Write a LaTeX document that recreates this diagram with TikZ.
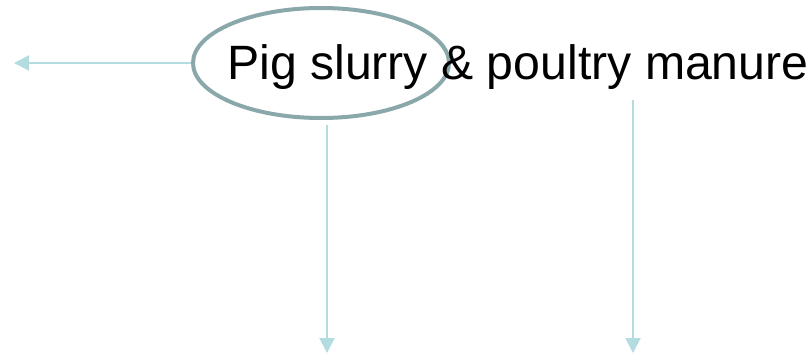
\documentclass[tikz,border=0pt]{standalone}
\usepackage{fontspec}
\setmainfont{Liberation Sans}
\usetikzlibrary{arrows.meta,shapes.geometric}
\definecolor{ringgray}{HTML}{8AA8AA}
\definecolor{flowblue}{HTML}{B2DCE0}
\tikzset{
	flow/.style={draw=flowblue,line width=2pt,-{Triangle[length=15pt,width=15pt]}},
	ring/.style={ellipse,draw=ringgray,line width=4pt,minimum width=256pt,minimum height=110pt,inner sep=0pt}
}
\begin{document}
\begin{tikzpicture}[x=1pt,y=-1pt]
	\useasboundingbox (0,0) rectangle (811,353);
	\node[ring] (pig) at (321,63) {};
	\node[anchor=base west,inner sep=0pt,font=\fontsize{48.2}{58}\selectfont] (label) at (227,80) {Pig slurry \& poultry manure};
	\coordinate (west) at (14,63);
	\coordinate (down1) at (327,353);
	\coordinate (top2) at (633,100);
	\coordinate (down2) at (633,353);
	\draw[flow] (pig.west) -- (west);
	\draw[flow] (pig.south -| down1) ++(0,5) -- (down1);
	\draw[flow] (top2) -- (down2);
\end{tikzpicture}
\end{document}
